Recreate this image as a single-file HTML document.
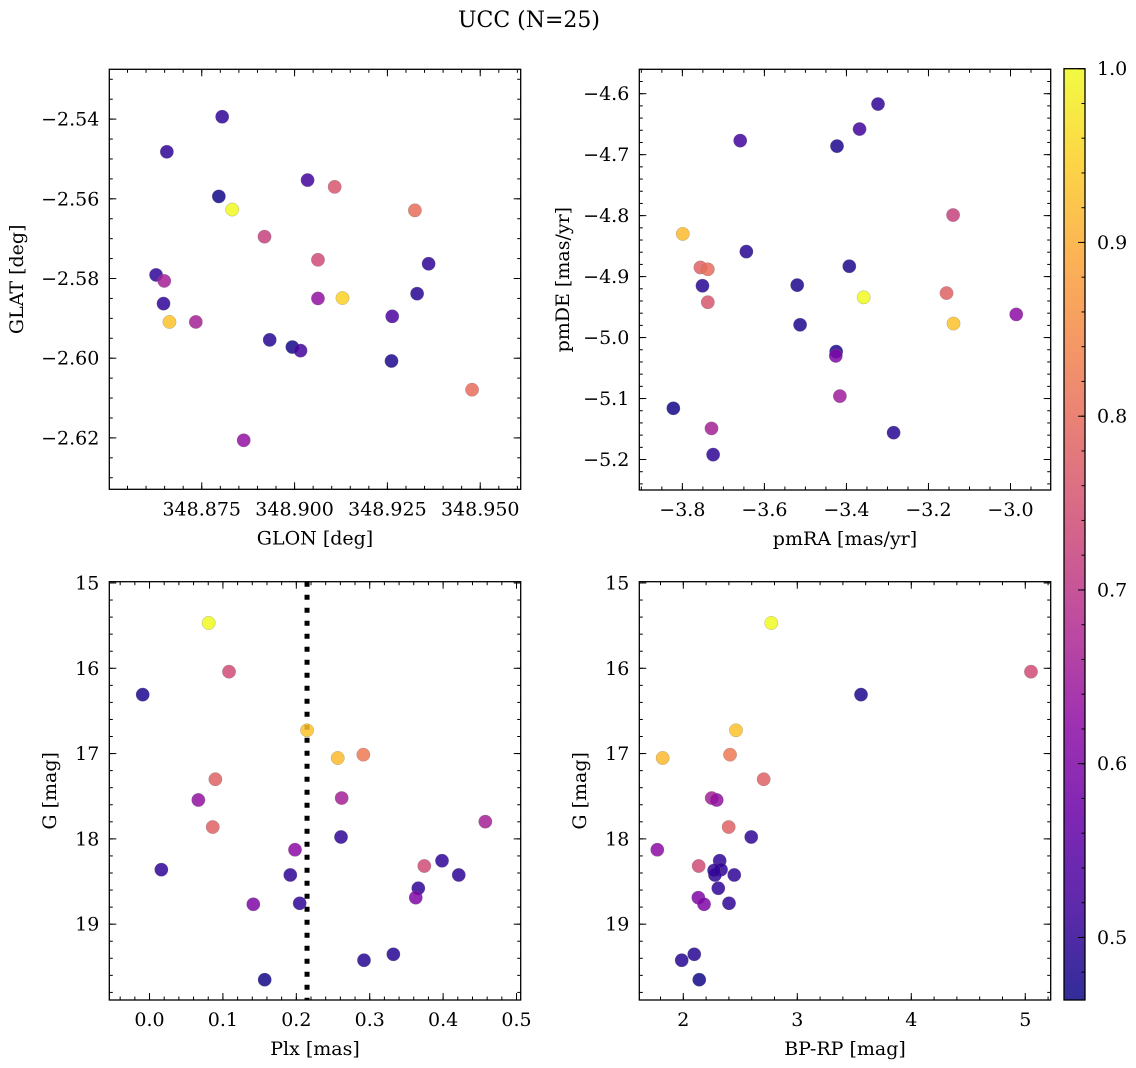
<!DOCTYPE html>
<html><head><meta charset="utf-8">
<style>
html,body{margin:0;padding:0;background:#fff;}
svg{display:block;font-family:"DejaVu Serif","Liberation Serif",serif;}
</style></head>
<body>
<svg id="fig" width="1136" height="1068" viewBox="0 0 1136 1068" xmlns="http://www.w3.org/2000/svg">
<rect width="1136" height="1068" fill="#fff"/>
<text x="529" y="27" font-size="22" text-anchor="middle">UCC (N=25)</text>
</svg>
<script>
// ---- Data ----
const glon = [348.8805,348.8656,348.8796,348.8832,348.9035,348.9108,348.9324,348.8919,348.9063,348.8627,348.8649,348.9361,348.9129,348.9063,348.9330,348.8647,348.8663,348.8734,348.9263,348.8933,348.8994,348.9016,348.9261,348.9478,348.8863];
const glat = [-2.5394,-2.5482,-2.5594,-2.5627,-2.5553,-2.5570,-2.5629,-2.5695,-2.5753,-2.5791,-2.5806,-2.5763,-2.5849,-2.5850,-2.5838,-2.5863,-2.5909,-2.5909,-2.5895,-2.5954,-2.5972,-2.5981,-2.6007,-2.6079,-2.6206];
const probPos = [0.5,0.5,0.47,1.0,0.52,0.76,0.8,0.72,0.74,0.5,0.66,0.5,0.95,0.63,0.49,0.5,0.93,0.66,0.53,0.49,0.47,0.52,0.48,0.8,0.63];

const pmra = [-3.323,-3.368,-3.423,-3.659,-3.140,-3.799,-3.644,-3.756,-3.738,-3.393,-3.751,-3.520,-3.358,-3.156,-3.738,-3.139,-2.986,-3.513,-3.425,-3.426,-3.416,-3.822,-3.729,-3.285,-3.725];
const pmde = [-4.617,-4.658,-4.686,-4.677,-4.799,-4.830,-4.859,-4.885,-4.888,-4.883,-4.915,-4.914,-4.934,-4.927,-4.942,-4.977,-4.962,-4.979,-5.023,-5.030,-5.096,-5.116,-5.149,-5.156,-5.192];
const probPm = [0.5,0.52,0.48,0.52,0.72,0.92,0.49,0.78,0.8,0.48,0.49,0.48,1.0,0.78,0.76,0.93,0.62,0.48,0.48,0.6,0.65,0.47,0.66,0.49,0.5];

const plx = [0.0806,0.1083,-0.0093,0.2146,0.2564,0.2913,0.0897,0.0665,0.2618,0.4575,0.0861,0.2609,0.1982,0.3744,0.3985,0.0161,0.1918,0.4213,0.3662,0.3627,0.1414,0.2046,0.3322,0.2922,0.1569];
const gPlx = [15.469,16.040,16.309,16.727,17.052,17.013,17.301,17.544,17.521,17.798,17.861,17.978,18.127,18.318,18.256,18.361,18.423,18.423,18.579,18.689,18.767,18.755,19.353,19.423,19.651];
const probPlx = [1.0,0.74,0.48,0.93,0.92,0.82,0.78,0.63,0.66,0.66,0.78,0.5,0.62,0.74,0.5,0.5,0.5,0.5,0.5,0.6,0.6,0.5,0.49,0.49,0.47];
const plxMedian = 0.2146;

const bprp = [2.772,5.050,3.559,2.462,1.819,2.410,2.705,2.249,2.293,2.398,2.596,1.772,2.135,2.319,2.331,2.278,2.447,2.307,2.132,2.182,2.401,2.096,1.986,2.140,2.270];
const gCmd = [15.469,16.040,16.309,16.727,17.052,17.013,17.301,17.521,17.544,17.861,17.978,18.127,18.318,18.256,18.361,18.423,18.423,18.579,18.689,18.767,18.755,19.353,19.423,19.651,18.370];
const probCmd = [1.0,0.74,0.48,0.93,0.92,0.82,0.78,0.66,0.63,0.78,0.5,0.62,0.74,0.5,0.5,0.5,0.5,0.5,0.6,0.6,0.5,0.49,0.49,0.47,0.5];

const cbarMin = 0.464, cbarMax = 1.0;
const cbarTicks = [0.5,0.6,0.7,0.8,0.9,1.0];

// ---- helpers ----
const NS = "http://www.w3.org/2000/svg";
const svg = document.getElementById('fig');
function mk(tag, attrs, parent){const e=document.createElementNS(NS,tag);for(const k in attrs)e.setAttribute(k,attrs[k]);(parent||svg).appendChild(e);return e;}
const plasma=[[13,8,135],[65,4,157],[106,0,168],[143,13,164],[177,42,144],[204,71,120],[225,100,98],[242,132,75],[252,166,54],[252,206,37],[240,249,33]];
function cmap(v){let t=(v-cbarMin)/(cbarMax-cbarMin);t=Math.max(0,Math.min(1,t))*10;const i=Math.min(9,Math.floor(t)),f=t-i;const a=plasma[i],b=plasma[i+1];return `rgb(${a.map((c,k)=>Math.round(c+(b[k]-c)*f)).join(',')})`;}
function fmt(v,d){const s=Math.abs(v).toFixed(d);return (v<-1e-9?'\u2212':'')+s;}

function panel(o){
  const g=mk('g',{});
  
  
  const X=v=>o.L+(v-o.x0)/(o.x1-o.x0)*(o.R-o.L);
  const Y=v=>o.B-(v-o.y0)/(o.y1-o.y0)*(o.B-o.T);
  const tg=mk('g',{stroke:'#000','stroke-width':1},g);
  function tickSet(from,to,step,len,axis,label,dec){
    const n0=Math.ceil(from/step-1e-6),n1=Math.floor(to/step+1e-6);
    for(let n=n0;n<=n1;n++){const v=n*step;
      if(axis==='x'){const x=X(v);mk('line',{x1:x,y1:o.B,x2:x,y2:o.B-len},tg);mk('line',{x1:x,y1:o.T,x2:x,y2:o.T+len},tg);
        if(label){const t=mk('text',{x:x,y:o.B+26,'font-size':19,'text-anchor':'middle',stroke:'none'},g);t.textContent=fmt(v,dec);}}
      else{const y=Y(v);mk('line',{x1:o.L,y1:y,x2:o.L+len,y2:y},tg);mk('line',{x1:o.R,y1:y,x2:o.R-len,y2:y},tg);
        if(label){const t=mk('text',{x:o.L-10,y:y+6.5,'font-size':19,'text-anchor':'end',stroke:'none'},g);t.textContent=fmt(v,dec);}}
    }}
  const xl=Math.min(o.x0,o.x1),xh=Math.max(o.x0,o.x1),yl=Math.min(o.y0,o.y1),yh=Math.max(o.y0,o.y1);
  tickSet(xl,xh,o.xminor,3.5,'x',false);
  tickSet(xl,xh,o.xmajor,7,'x',true,o.xdec);
  tickSet(yl,yh,o.yminor,3.5,'y',false);
  tickSet(yl,yh,o.ymajor,7,'y',true,o.ydec);
  if(o.vline!==undefined){const l=mk('line',{x1:X(o.vline),y1:o.T,x2:X(o.vline),y2:o.B,stroke:'#000','stroke-width':5,'stroke-dasharray':'5 8'},g);}
  for(let i=0;i<o.xs.length;i++){
    const c=mk('circle',{cx:X(o.xs[i]),cy:Y(o.ys[i]),r:6.7,fill:cmap(o.cs[i]),'fill-opacity':0.85,stroke:'#777','stroke-opacity':0.5,'stroke-width':0.5},g);
    
    
  }
  mk('rect',{x:o.L,y:o.T,width:o.R-o.L,height:o.B-o.T,fill:'none',stroke:'#000','stroke-width':1.3},g);
  const xt=mk('text',{x:(o.L+o.R)/2,y:o.B+55,'font-size':19,'text-anchor':'middle'},g);xt.textContent=o.xlabel;
  
  const yx=o.ylx,yy=(o.T+o.B)/2;
  const yt=mk('text',{x:yx,y:yy,'font-size':19,'text-anchor':'middle',transform:`rotate(-90 ${yx} ${yy})`},g);yt.textContent=o.ylabel;
  
}

panel({name:'sky-position-panel',L:109.3,R:520.7,T:69.3,B:489.3,x0:348.8501,x1:348.9609,y0:-2.6329,y1:-2.5275,
  xmajor:0.025,xminor:0.005,xdec:3,ymajor:0.02,yminor:0.005,ydec:2,xs:glon,ys:glat,cs:probPos,xlabel:'GLON [deg]',ylabel:'GLAT [deg]',ylx:23});
panel({name:'proper-motion-panel',L:639.3,R:1050.7,T:69.3,B:490,x0:-3.905,x1:-2.902,y0:-5.250,y1:-4.560,
  xmajor:0.2,xminor:0.05,xdec:1,ymajor:0.1,yminor:0.02,ydec:1,xs:pmra,ys:pmde,cs:probPm,xlabel:'pmRA [mas/yr]',ylabel:'pmDE [mas/yr]',ylx:569});
panel({name:'parallax-panel',L:109.3,R:520.7,T:581.7,B:1000,x0:-0.0548,x1:0.5057,y0:19.889,y1:14.985,
  xmajor:0.1,xminor:0.02,xdec:1,ymajor:1,yminor:0.2,ydec:0,xs:plx,ys:gPlx,cs:probPlx,xlabel:'Plx [mas]',ylabel:'G [mag]',ylx:56,vline:plxMedian});
panel({name:'cmd-panel',L:639.3,R:1050.7,T:581.7,B:1000,x0:1.614,x1:5.223,y0:19.889,y1:14.985,
  xmajor:1,xminor:0.2,xdec:0,ymajor:1,yminor:0.2,ydec:0,xs:bprp,ys:gCmd,cs:probCmd,xlabel:'BP-RP [mag]',ylabel:'G [mag]',ylx:586});

// colorbar
(function(){
  const L=1064,R=1085,T=68.7,B=1000;
  const g=mk('g',{});
  
  
  const defs=mk('defs',{},g);
  const lg=mk('linearGradient',{id:'cb',x1:0,y1:1,x2:0,y2:0},defs);
  for(let i=0;i<=20;i++){const v=cbarMin+(cbarMax-cbarMin)*i/20;mk('stop',{offset:i/20,'stop-color':cmap(v),'stop-opacity':0.85},lg);}
  mk('rect',{x:L,y:T,width:R-L,height:B-T,fill:'url(#cb)'},g);
  const Y=v=>B-(v-cbarMin)/(cbarMax-cbarMin)*(B-T);
  for(let n=Math.ceil(cbarMin/0.02);n*0.02<=cbarMax+1e-9;n++){const y=Y(n*0.02);mk('line',{x1:R,y1:y,x2:R-3.5,y2:y,stroke:'#000'},g);}
  for(const v of cbarTicks){const y=Y(v);mk('line',{x1:R,y1:y,x2:R-7,y2:y,stroke:'#000'},g);
    const t=mk('text',{x:R+12,y:y+6.5,'font-size':19},g);t.textContent=v.toFixed(1);
    }
  mk('rect',{x:L,y:T,width:R-L,height:B-T,fill:'none',stroke:'#000','stroke-width':1.3},g);
})();
</script>
</body></html>
